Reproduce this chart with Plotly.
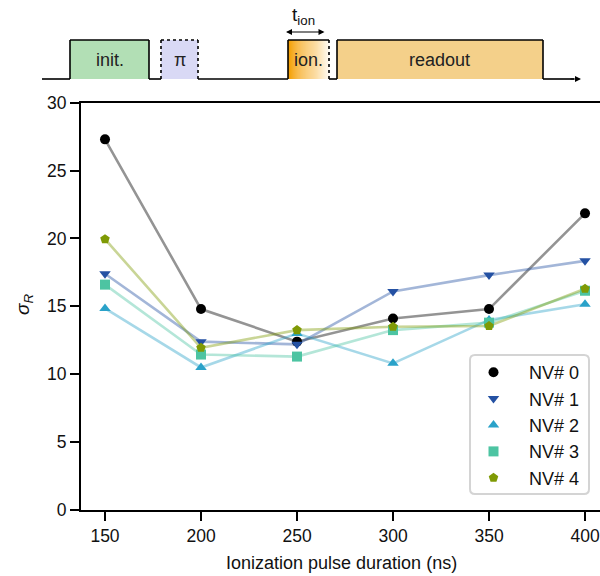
import plotly.graph_objects as go

# ---------------- data ----------------
durations = [150, 200, 250, 300, 350, 400]
nv_names = ["NV# 0", "NV# 1", "NV# 2", "NV# 3", "NV# 4"]
nv0 = [27.3, 14.8, 12.4, 14.1, 14.8, 21.85]
nv1 = [17.4, 12.4, 12.2, 16.1, 17.3, 18.35]
nv2 = [14.85, 10.5, 13.0, 10.8, 14.0, 15.15]
nv3 = [16.6, 11.45, 11.3, 13.25, 13.8, 16.15]
nv4 = [19.95, 11.95, 13.25, 13.5, 13.55, 16.3]
series = [nv0, nv1, nv2, nv3, nv4]
y_ticks = [0, 5, 10, 15, 20, 25, 30]
x_ticks = [150, 200, 250, 300, 350, 400]

marker_colors = ["#000000", "#2451a3", "#2aa2c9", "#4dc4a2", "#7f9a05"]
symbols = ["circle", "triangle-down", "triangle-up", "square", "pentagon"]

W, H = 600, 576
FONT = "Liberation Sans, Arial, sans-serif"


def hex_rgba(h, a):
    h = h.lstrip("#")
    r, g, b = int(h[0:2], 16), int(h[2:4], 16), int(h[4:6], 16)
    return f"rgba({r},{g},{b},{a})"


def px(x):
    return x / W


def py(y):
    return 1 - y / H


fig = go.Figure()

for name, vals, col in zip(nv_names, series, marker_colors):
    fig.add_trace(go.Scatter(
        x=durations, y=vals, mode="lines",
        line=dict(color=hex_rgba(col, 0.42), width=2.6),
        showlegend=False, hoverinfo="skip"))
for i, (name, vals, col, sym) in enumerate(zip(nv_names, series, marker_colors, symbols)):
    fig.add_trace(go.Scatter(
        x=durations, y=vals, mode="markers", name=name,
        marker=dict(color=col, symbol=sym, size=10, line=dict(width=0))))

# ---------------- pulse-sequence diagram (decoration) ----------------
shapes = []
annotations = []
LW = 1.6
top, base = 40, 79


def rect(x0, x1, fill):
    shapes.append(dict(type="rect", xref="paper", yref="paper",
                       x0=px(x0), x1=px(x1), y0=py(base), y1=py(top),
                       fillcolor=fill, line=dict(width=0), layer="above"))


def seg(x0, y0, x1, y1, dash="solid", w=LW):
    shapes.append(dict(type="line", xref="paper", yref="paper",
                       x0=px(x0), y0=py(y0), x1=px(x1), y1=py(y1),
                       line=dict(color="black", width=w, dash=dash), layer="above"))


rect(70, 149, "#b2dfb5")
rect(161, 198, "#d9d9f5")
n = 40
x0g, x1g = 288, 329
c0 = (245, 158, 0)
c1 = (255, 250, 240)
for k in range(n):
    t = k / (n - 1)
    c = tuple(int(c0[j] + (c1[j] - c0[j]) * t) for j in range(3))
    xa = x0g + (x1g - x0g) * k / n
    xb = x0g + (x1g - x0g) * (k + 1) / n + 0.3
    shapes.append(dict(type="rect", xref="paper", yref="paper",
                       x0=px(xa), x1=px(xb), y0=py(base), y1=py(top),
                       fillcolor=f"rgb{c}", line=dict(width=0), layer="above"))
rect(337, 543, "#f4d08a")

seg(42, base, 70, base)
seg(70, base, 70, top)
seg(70, top, 149, top)
seg(149, top, 149, base)
seg(149, base, 161, base)
seg(161, base, 161, top, dash="dot")
seg(161, top, 198, top, dash="dot")
seg(198, top, 198, base, dash="dot")
seg(198, base, 288, base)
seg(288, base, 288, top)
seg(288, top, 329, top)
seg(329, top, 329, base, dash="dot")
seg(329, base, 337, base)
seg(337, base, 337, top)
seg(337, top, 543, top)
seg(543, top, 543, base)
seg(543, base, 574, base)

annotations.append(dict(xref="paper", yref="paper", x=px(581), y=py(base),
                        ax=-12, ay=0, text="", showarrow=True, arrowhead=2,
                        arrowsize=1, arrowwidth=1.2, arrowcolor="black"))
annotations.append(dict(xref="paper", yref="paper", x=px(286), y=py(32),
                        ax=40, ay=0, text="", showarrow=True, arrowhead=2,
                        startarrowhead=2, arrowside="end+start", arrowsize=1,
                        startarrowsize=1, arrowwidth=1.2, arrowcolor="black"))

for label, xc in [("init.", 109.5), ("π", 179.5), ("ion.", 308.5), ("readout", 440)]:
    annotations.append(dict(xref="paper", yref="paper", x=px(xc), y=py(60),
                            text=label, showarrow=False, xanchor="center",
                            yanchor="middle", font=dict(size=18, color="#222", family=FONT)))
annotations.append(dict(xref="paper", yref="paper", x=px(303), y=py(16),
                        text="t<sub>ion</sub>", showarrow=False, xanchor="center",
                        yanchor="middle", font=dict(size=19, color="#111", family=FONT)))

annotations.append(dict(xref="paper", yref="paper", x=px(24), y=py(305),
                        text="<i>σ<sub>R</sub></i>", showarrow=False, textangle=-90,
                        xanchor="center", yanchor="middle",
                        font=dict(size=19, color="#111", family=FONT)))
annotations.append(dict(xref="paper", yref="paper", x=px(342), y=py(563),
                        text="Ionization pulse duration (ns)", showarrow=False,
                        xanchor="center", yanchor="middle",
                        font=dict(size=18, color="#111", family=FONT)))

lx0, lx1, ly0, ly1, r = 470, 589, 355, 494, 5
path = (f"M {px(lx0+r)},{py(ly0)} L {px(lx1-r)},{py(ly0)} "
        f"Q {px(lx1)},{py(ly0)} {px(lx1)},{py(ly0+r)} L {px(lx1)},{py(ly1-r)} "
        f"Q {px(lx1)},{py(ly1)} {px(lx1-r)},{py(ly1)} L {px(lx0+r)},{py(ly1)} "
        f"Q {px(lx0)},{py(ly1)} {px(lx0)},{py(ly1-r)} L {px(lx0)},{py(ly0+r)} "
        f"Q {px(lx0)},{py(ly0)} {px(lx0+r)},{py(ly0)} Z")
shapes.append(dict(type="path", xref="paper", yref="paper", path=path,
                   fillcolor="rgba(255,255,255,0.85)",
                   line=dict(color="#d4d4d4", width=2), layer="above"))

fig.update_layout(
    width=W, height=H,
    margin=dict(l=0, r=0, t=0, b=0),
    paper_bgcolor="white", plot_bgcolor="white",
    font=dict(family=FONT, size=17, color="#111"),
    shapes=shapes, annotations=annotations,
    showlegend=True,
    legend=dict(x=px(458), y=py(354), xanchor="left", yanchor="top",
                bgcolor="rgba(0,0,0,0)", borderwidth=0,
                font=dict(size=18, family=FONT, color="#111"),
                itemwidth=61, itemsizing="trace"),
    xaxis=dict(domain=[px(81), 1.0], range=[137.5, 407.8],
               tickvals=x_ticks, ticks="outside", ticklen=9, tickwidth=2,
               tickcolor="black", showline=True, linecolor="black", linewidth=2,
               mirror=True, showgrid=False, zeroline=False, automargin=False,
               tickfont=dict(size=17.5)),
    yaxis=dict(domain=[py(510), py(102.7)], range=[0, 30],
               tickvals=y_ticks, ticks="outside", ticklen=9, tickwidth=2,
               tickcolor="black", showline=True, linecolor="black", linewidth=2,
               showgrid=False, zeroline=False, automargin=False,
               tickfont=dict(size=17.5)),
)

fig.write_html("out.html", config={"displayModeBar": False},
               post_script="document.body.style.margin='0';document.body.style.padding='0';")
